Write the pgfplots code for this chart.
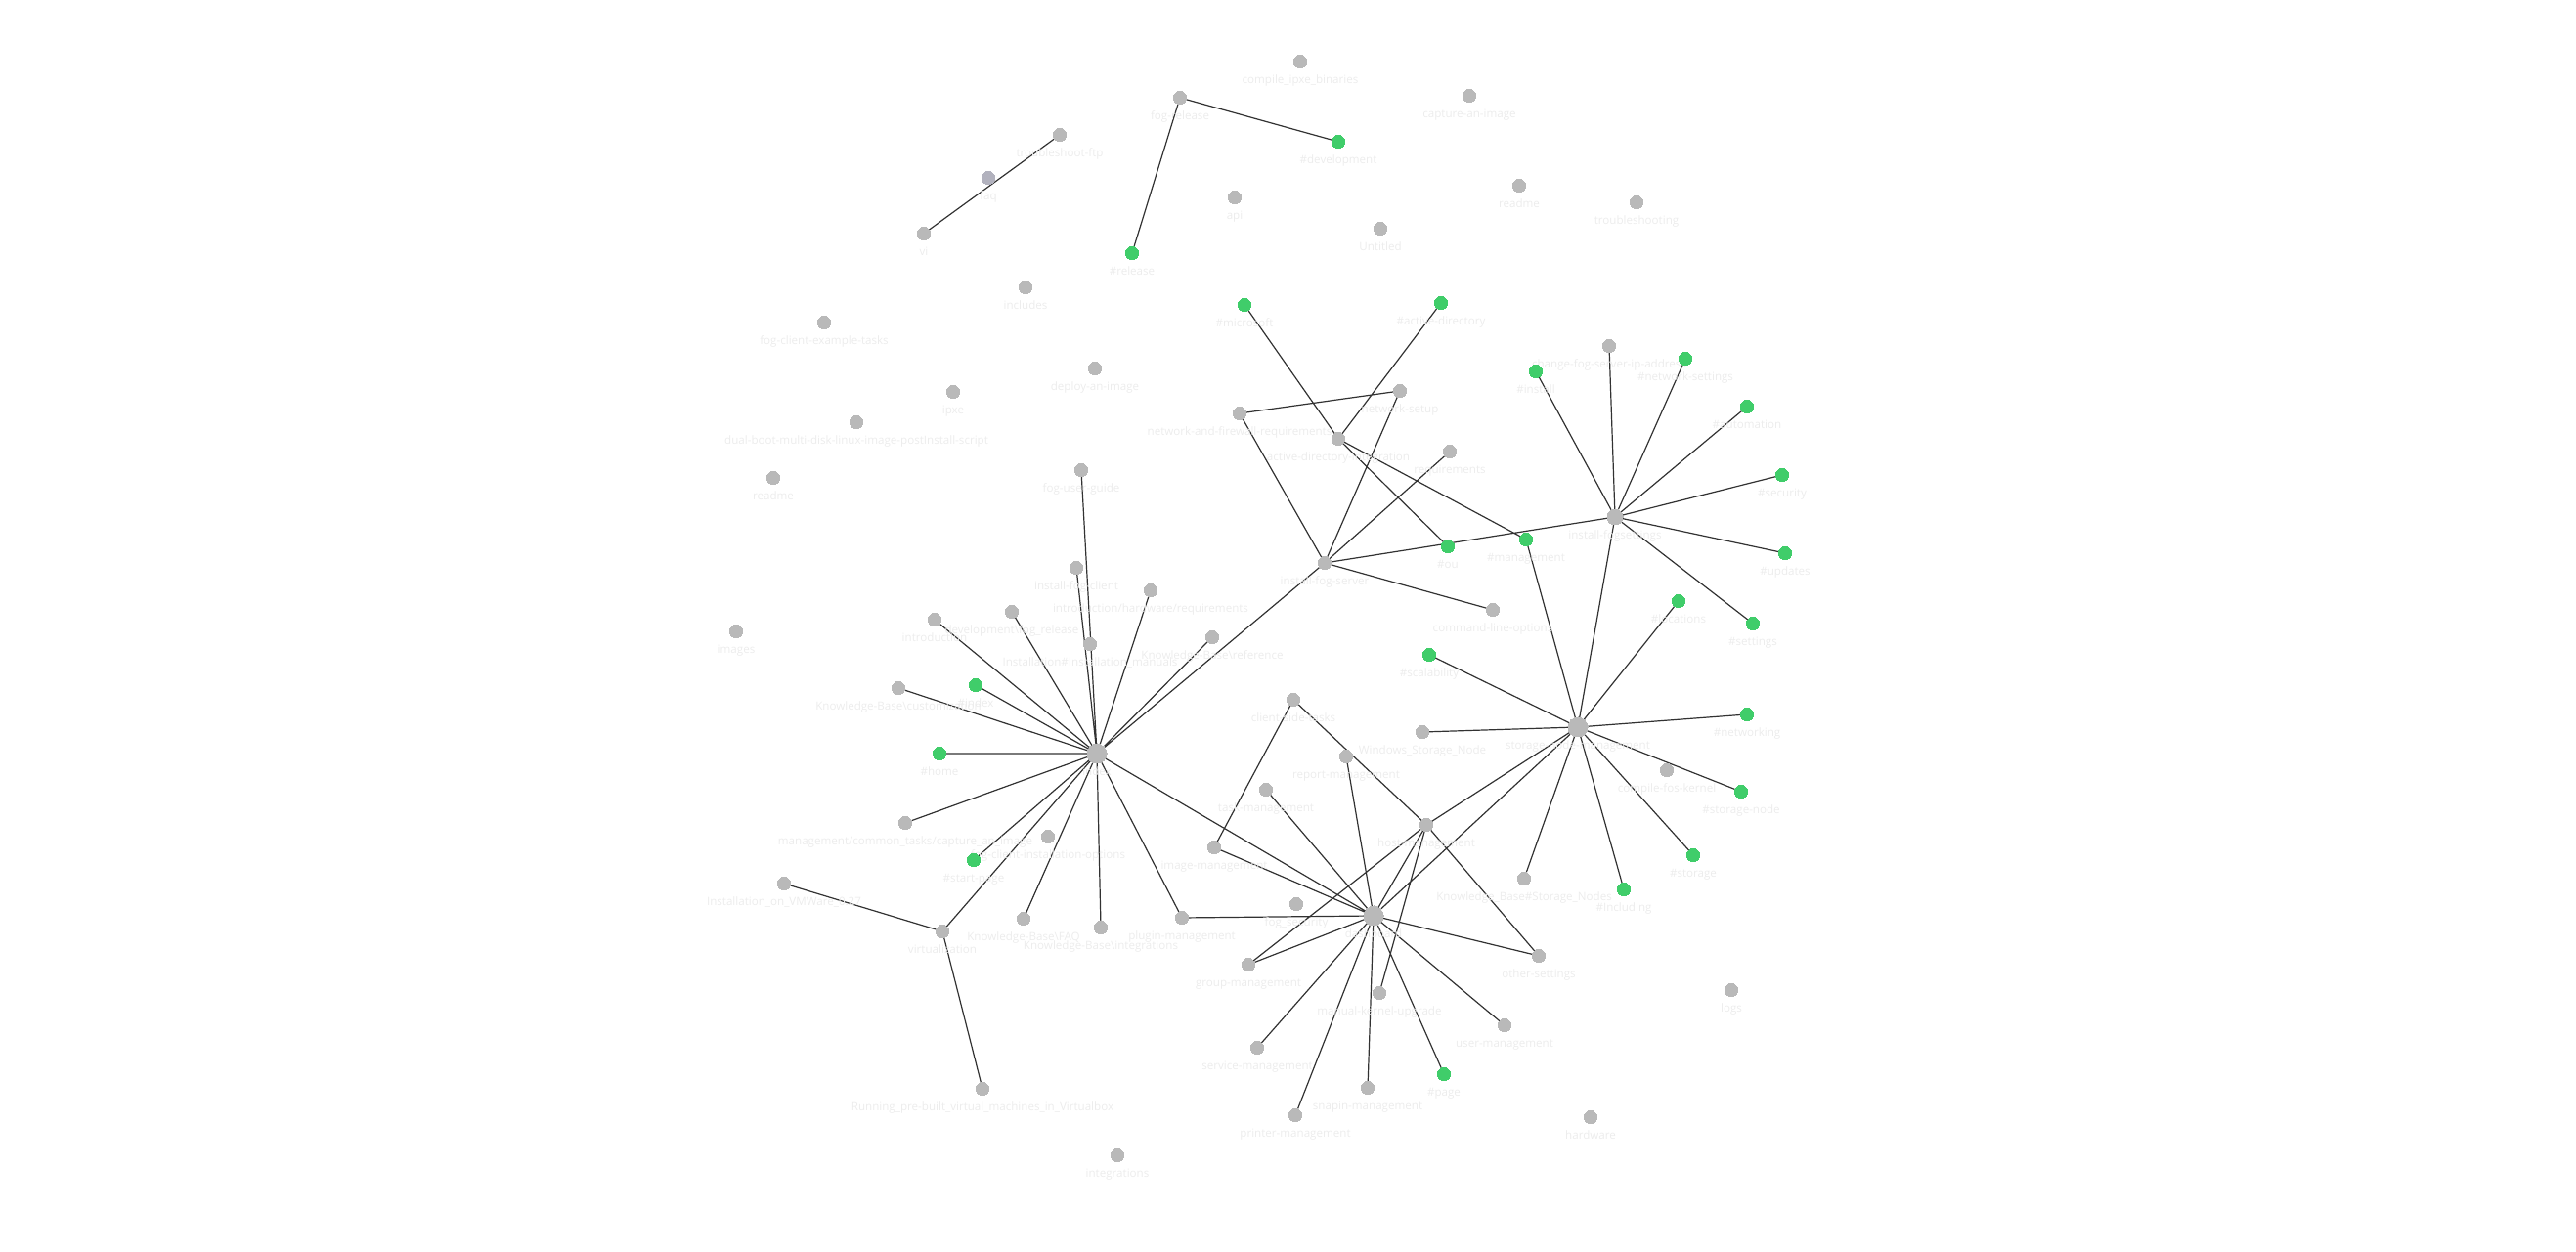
\documentclass[border=0pt]{standalone}
\usepackage{fontspec}
\setmainfont{Open Sans}
\usepackage{pgfplots}
\pgfplotsset{compat=1.18}
\usepackage{pgfplotstable}
\definecolor{nodegray}{RGB}{185,185,185}
\definecolor{nodegreen}{RGB}{64,205,106}
\definecolor{edgecol}{RGB}{50,50,50}
\definecolor{labelgray}{RGB}{236,236,236}
\definecolor{faqcol}{RGB}{178,178,190}

\pgfplotstableread{
x y label
1084 138 troubleshoot-ftp
1011 182 faq
945 239 vi
1049 294 includes
843 330 fog-client-example-tasks
1330 63 compile\_ipxe\_binaries
1207 100 fog-release
1263 202 api
1412 234 Untitled
1503 98 capture-an-image
1554 190 readme
1674 207 troubleshooting
975 401 ipxe
876 432 dual-boot-multi-disk-linux-image-postInstall-script
791 489 readme
1106 481 fog-user-guide
1101 581 install-fog-client
1120 377 deploy-an-image
1268 423 network-and-firewall-requirements
1432 400 network-setup
1369 449 active-directory-integration
1483 462 requirements
1355 576 install-fog-server
1177 604 introduction/hardware/requirements
1646 354 change-fog-server-ip-address
1527 624 command-line-options
1455 749 Windows\_Storage\_Node
1705 788 compile-fos-kernel
1459 844 host-management
1559 899 Knowledge\_Base\#Storage\_Nodes
753 646 images
956 634 introduction
1035 626 development\textbackslash{}fog\_release
1115 659 Installation\#Installation\_manuals
1240 652 Knowledge-Base\textbackslash{}reference
919 704 Knowledge-Base\textbackslash{}customization
926 842 management/common\_tasks/capture\_an\_image
1072 856 fog-client-installation-options
802 904 Installation\_on\_VMWare\_0.27
964 953 virtualization
1047 940 Knowledge-Base\textbackslash{}FAQ
1126 949 Knowledge-Base\textbackslash{}integrations
1209 939 plugin-management
1005 1114 Running\_pre-built\_virtual\_machines\_in\_Virtualbox
1143 1182 integrations
1323 716 client-side-tasks
1377 774 report-management
1295 808 task-management
1242 867 image-management
1326 925 fog\_security
1277 987 group-management
1574 978 other-settings
1411 1016 manual-kernel-upgrade
1539 1049 user-management
1286 1072 service-management
1399 1113 snapin-management
1325 1141 printer-management
1771 1013 logs
1627 1143 hardware
}\graynodes

\pgfplotstableread{
x y label
1122 771 index
1405 937 dashboard
1614 744 storage-node-management
}\bignodes

\pgfplotstableread{
x y label
1652 529 install-fogsettings
}\midnodes

\pgfplotstableread{
x y label
1369 145 \#development
1158 259 \#release
1273 312 \#microsoft
1474 310 \#active-directory
1481 559 \#ou
1571 380 \#install
1724 367 \#network-settings
1787 416 \#automation
1823 486 \#security
1826 566 \#updates
1561 552 \#management
1717 615 \#locations
1793 638 \#settings
1462 670 \#scalability
1787 731 \#networking
1781 810 \#storage-node
1732 875 \#storage
1661 910 \#Including
998 701 \#index
961 771 \#home
996 880 \#start-page
1477 1099 \#page
}\greennodes

\begin{document}
\begin{tikzpicture}
\begin{axis}[at={(0,0)}, anchor=south west, scale only axis,
  width=658.75pt, height=320.25pt,
  xmin=0, xmax=2635, ymin=0, ymax=1281, y dir=reverse,
  hide axis, clip=false,
  lbl/.style={draw=none, mark=none, nodes near coords, point meta=explicit symbolic,
    every node near coord/.append style={text=labelgray,
      font=\fontsize{2.9}{3.4}\selectfont, anchor=base, yshift=-5.7pt, inner sep=0pt}},
]
% labels
\addplot[lbl] table[x=x,y=y,meta=label] {\graynodes};
\addplot[lbl] table[x=x,y=y,meta=label] {\greennodes};
\addplot[lbl] table[x=x,y=y,meta=label] {\midnodes};
\addplot[lbl] table[x=x,y=y,meta=label] {\bignodes};

% edges
\addplot[edgecol, line width=0.3pt, mark=none, unbounded coords=jump] table {
x y
945 239
1084 138
nan nan
1207 100
1369 145
nan nan
1207 100
1158 259
nan nan
1273 312
1369 449
nan nan
1474 310
1369 449
nan nan
1369 449
1481 559
nan nan
1369 449
1561 552
nan nan
1268 423
1432 400
nan nan
1268 423
1355 576
nan nan
1432 400
1355 576
nan nan
1483 462
1355 576
nan nan
1355 576
1652 529
nan nan
1355 576
1527 624
nan nan
1355 576
1122 771
nan nan
1652 529
1571 380
nan nan
1652 529
1646 354
nan nan
1652 529
1724 367
nan nan
1652 529
1787 416
nan nan
1652 529
1823 486
nan nan
1652 529
1826 566
nan nan
1652 529
1793 638
nan nan
1652 529
1614 744
nan nan
1561 552
1614 744
nan nan
1614 744
1717 615
nan nan
1614 744
1462 670
nan nan
1614 744
1455 749
nan nan
1614 744
1787 731
nan nan
1614 744
1781 810
nan nan
1614 744
1732 875
nan nan
1614 744
1661 910
nan nan
1614 744
1559 899
nan nan
1614 744
1459 844
nan nan
1614 744
1405 937
nan nan
1122 771
1106 481
nan nan
1122 771
1101 581
nan nan
1122 771
1177 604
nan nan
1122 771
956 634
nan nan
1122 771
1035 626
nan nan
1122 771
919 704
nan nan
1122 771
998 701
nan nan
1122 771
961 771
nan nan
1122 771
926 842
nan nan
1122 771
996 880
nan nan
1122 771
964 953
nan nan
1122 771
1047 940
nan nan
1122 771
1126 949
nan nan
1122 771
1209 939
nan nan
1122 771
1405 937
nan nan
1122 771
1240 652
nan nan
964 953
802 904
nan nan
964 953
1005 1114
nan nan
1323 716
1242 867
nan nan
1323 716
1459 844
nan nan
1377 774
1405 937
nan nan
1295 808
1405 937
nan nan
1242 867
1405 937
nan nan
1209 939
1405 937
nan nan
1459 844
1405 937
nan nan
1459 844
1277 987
nan nan
1459 844
1574 978
nan nan
1459 844
1411 1016
nan nan
1405 937
1277 987
nan nan
1405 937
1574 978
nan nan
1405 937
1539 1049
nan nan
1405 937
1286 1072
nan nan
1405 937
1399 1113
nan nan
1405 937
1325 1141
nan nan
1405 937
1477 1099
};

% nodes
\addplot[only marks, color=nodegray, mark=*, mark size=1.65pt, mark options={draw=nodegray, fill=nodegray, line width=0pt}] table[x=x,y=y] {\graynodes};
\addplot[only marks, color=faqcol, mark=*, mark size=1.65pt, mark options={draw=faqcol, fill=faqcol, line width=0pt}] coordinates {(1011,182)};
\addplot[only marks, color=nodegray, mark=*, mark size=2.0pt, mark options={draw=nodegray, fill=nodegray, line width=0pt}] table[x=x,y=y] {\midnodes};
\addplot[only marks, color=nodegray, mark=*, mark size=2.5pt, mark options={draw=nodegray, fill=nodegray, line width=0pt}] table[x=x,y=y] {\bignodes};
\addplot[only marks, color=nodegreen, mark=*, mark size=1.65pt, mark options={draw=nodegreen, fill=nodegreen, line width=0pt}] table[x=x,y=y] {\greennodes};
\end{axis}
\pgfresetboundingbox
\path[use as bounding box] (0,0) rectangle (658.75pt,320.25pt);
\end{tikzpicture}
\end{document}
